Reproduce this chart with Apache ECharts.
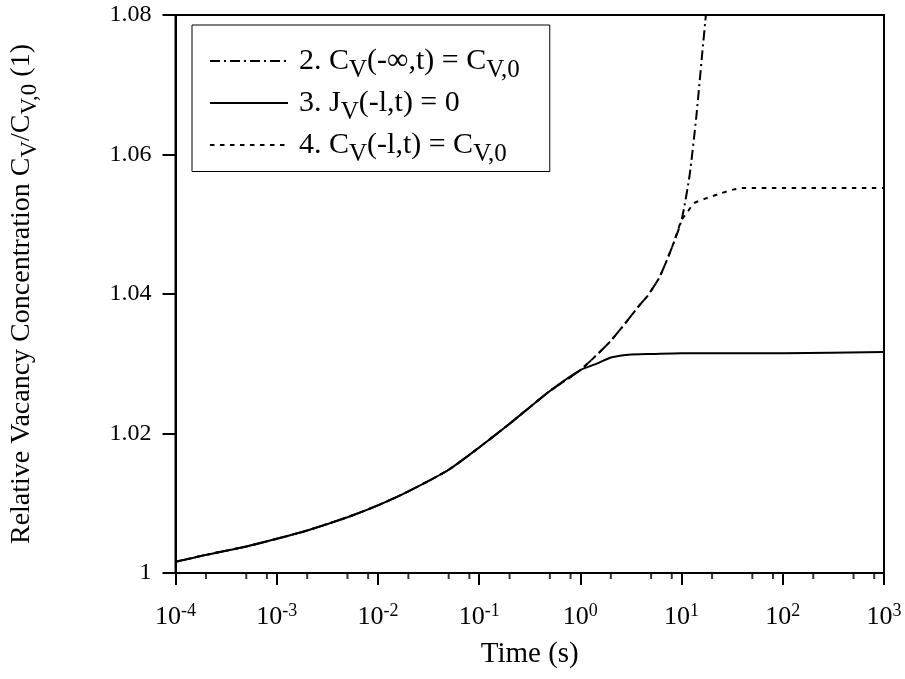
<!DOCTYPE html>
<html>
<head>
<meta charset="utf-8">
<script src="https://cdn.jsdelivr.net/npm/echarts@6/dist/echarts.min.js"></script>
<style>
  html, body { margin: 0; padding: 0; background: #fff; }
  #main { width: 905px; height: 679px; }
</style>
</head>
<body>
<div id="main"></div>
<script>
// values: [time (s), Cv/Cv0]
var commonPart = [
    [1e-4, 1.0016], [2e-4, 1.0026], [5e-4, 1.0038], [1e-3, 1.0049],
    [2e-3, 1.0061], [5e-3, 1.0080], [1e-2, 1.0097], [2e-2, 1.0117],
    [5e-2, 1.0148], [1e-1, 1.0180], [2e-1, 1.0214], [5e-1, 1.0261],
    [1, 1.0291]
];
var infPart = [
    [2, 1.0333], [4, 1.0387], [4.6, 1.0397], [6, 1.0423], [8, 1.0466],
    [10, 1.0506], [12, 1.0570], [14, 1.0655], [16, 1.0745], [17.5, 1.0805], [19, 1.0870]
];
var fluxPart = [
    [1.5, 1.0301], [2, 1.0309], [3, 1.0313], [5, 1.0314], [10, 1.0315],
    [100, 1.0315], [1000, 1.0317]
];
var fixedPart = [
    [2, 1.0333], [4, 1.0387], [4.6, 1.0397], [6, 1.0423], [8, 1.0466],
    [10, 1.0506], [11.5, 1.0518], [13.2, 1.0530], [16.6, 1.0536], [24, 1.0544],
    [33, 1.0550], [41, 1.0552], [100, 1.0552], [1000, 1.0552]
];
var seriesNames = [
    '2. C{sub|V}(-∞,t) = C{sub|V,0}',
    '3. J{sub|V}(-l,t) = 0',
    '4. C{sub|V}(-l,t) = C{sub|V,0}'
];
var minorTickFactors = [2, 5, 8];
var decades = [-4, -3, -2, -1, 0, 1, 2];

var minorTicks = [];
for (var d = 0; d < decades.length; d++) {
    for (var k = 0; k < minorTickFactors.length; k++) {
        minorTicks.push([minorTickFactors[k] * Math.pow(10, decades[d]), 1]);
    }
}

var fontFam = '"Liberation Serif", "DejaVu Serif", serif';

var chart = echarts.init(document.getElementById('main'));
var option = {
    animation: false,
    backgroundColor: '#fff',
    textStyle: { fontFamily: fontFam, color: '#000' },
    grid: {
        left: 174, right: 21, top: 15, bottom: 106,
        show: true, borderColor: '#000', borderWidth: 2, backgroundColor: 'transparent'
    },
    legend: {
        orient: 'vertical',
        left: 192, top: 25,
        padding: [21, 30, 5, 17],
        itemWidth: 78, itemHeight: 20, itemGap: 5.5,
        borderColor: '#000', borderWidth: 1,
        itemStyle: { opacity: 0 },
        data: seriesNames,
        textStyle: {
            fontFamily: fontFam, fontSize: 30, color: '#000',
            padding: [0, 0, 0, 6],
            rich: {
                sub: { fontFamily: fontFam, fontSize: 25, color: '#000', padding: [18, 0, 0, 0] }
            }
        }
    },
    xAxis: {
        type: 'log', logBase: 10, min: 1e-4, max: 1e3, interval: 1,
        name: 'Time (s)', nameLocation: 'middle', nameGap: 67,
        nameTextStyle: { fontFamily: fontFam, fontSize: 29, color: '#000' },
        axisLine: { lineStyle: { color: '#000', width: 2 } },
        axisTick: { length: 12, lineStyle: { color: '#000', width: 2 } },
        splitLine: { show: false },
        axisLabel: {
            margin: 29,
            fontFamily: fontFam, fontSize: 26, color: '#000',
            formatter: function (v) {
                var e = Math.round(Math.log10(v));
                return '10{sup|' + e + '}';
            },
            rich: {
                sup: { fontFamily: fontFam, fontSize: 18, color: '#000', padding: [0, 0, 12, 0] }
            }
        }
    },
    yAxis: {
        type: 'value', min: 1, max: 1.08, interval: 0.02,
        name: 'Relative Vacancy Concentration C{sub|V}/C{sub|V,0} (1)',
        nameLocation: 'middle', nameGap: 134, nameRotate: 90,
        nameTextStyle: {
            fontFamily: fontFam, fontSize: 28, color: '#000',
            rich: {
                sub: { fontFamily: fontFam, fontSize: 23, color: '#000', padding: [16, 0, 0, 0] }
            }
        },
        axisLine: { lineStyle: { color: '#000', width: 2 } },
        axisTick: { length: 13, lineStyle: { color: '#000', width: 2 } },
        splitLine: { show: false },
        axisLabel: { margin: 24, fontFamily: fontFam, fontSize: 24, color: '#000' }
    },
    series: [
        {
            name: seriesNames[0], type: 'line', symbol: 'none', showSymbol: false,
            smooth: 0.2,
            data: commonPart.concat(infPart),
            lineStyle: { color: '#000', width: 2, type: [10, 4, 2, 4] },
            itemStyle: { color: '#000' }, z: 3
        },
        {
            name: seriesNames[1], type: 'line', symbol: 'none', showSymbol: false,
            smooth: 0.2,
            data: commonPart.concat(fluxPart),
            lineStyle: { color: '#000', width: 2, type: 'solid' },
            itemStyle: { color: '#000' }, z: 2
        },
        {
            name: seriesNames[2], type: 'line', symbol: 'none', showSymbol: false,
            smooth: 0.2,
            data: commonPart.concat(fixedPart),
            lineStyle: { color: '#000', width: 2, type: [4.5, 5.5] },
            itemStyle: { color: '#000' }, z: 1
        },
        {
            name: 'minor', type: 'scatter', silent: true, clip: false,
            symbol: 'rect', symbolSize: [2, 6], symbolOffset: [0, 3],
            itemStyle: { color: '#000' },
            data: minorTicks, z: 5
        }
    ]
};
chart.setOption(option);
</script>
</body>
</html>
